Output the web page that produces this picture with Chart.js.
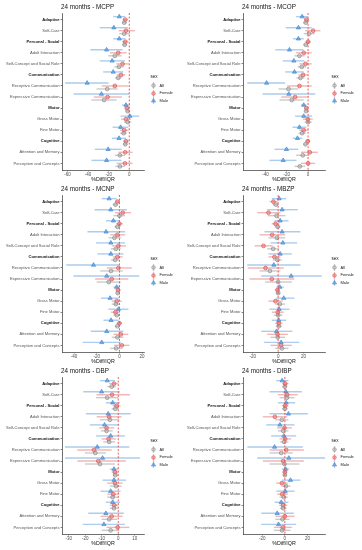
<!DOCTYPE html>
<html>
<head>
<meta charset="utf-8">
<script src="https://cdn.jsdelivr.net/npm/chart.js@4.4.0/dist/chart.umd.min.js"></script>
<style>
  body { margin: 0; background: #fff; width: 362px; height: 550px; position: relative; overflow: hidden;
         font-family: "Liberation Sans", Arial, sans-serif; }
  .panel { position: absolute; width: 181px; height: 186px; }
  .panel canvas { position: absolute; left: 0; top: 0; }
  .ttl { position: absolute; left: 61px; top: 3px; font-size: 6.3px; line-height: 8px; color: #111; white-space: nowrap; }
  .leg { position: absolute; left: 150px; font-size: 4px; color: #222; line-height: 7.8px; }
  .leg .head { font-size: 4.6px; margin-left: 0.5px; line-height: 8.5px; }
  .leg .row { display: flex; align-items: center; white-space: nowrap; }
  .leg svg { width: 7px; height: 7px; margin-right: 2.5px; }
</style>
</head>
<body>
<script>
// categories (top to bottom)
const categories = ["Adaptive", "Self-Care", "Personal - Social", "Adult Interaction",
  "Self-Concept and Social Role", "Communication", "Receptive Communication",
  "Expressive Communication", "Motor", "Gross Motor", "Fine Motor", "Cognitive",
  "Attention and Memory", "Perception and Concepts"];
const headers = ["Adaptive", "Personal - Social", "Communication", "Motor", "Cognitive"];
const sexes = ["All", "Female", "Male"];

// [estimate, lower, upper] per category
const mcppMale = [[-9.7,-15.6,-3.9],[-15,-28.6,-1.3],[-9.7,-15.6,-3.9],[-22,-37.7,-6.5],[-16.6,-28.6,-4.2],[-15.6,-25.3,-5.8],[-40.9,-62.3,-20.1],[-27,-54,0],[-3.2,-7.1,0.6],[0.6,-8.4,9.7],[-8.4,-16.2,-1],[-10,-16.9,-3.2],[-20.5,-33.4,-7.5],[-22,-36.7,-7.5]];
const mcppFemale = [[-3.9,-6.5,-1.3],[-3.2,-10.4,5.5],[-3.9,-7,-1],[-10.7,-18.8,-2.6],[-6.5,-12.7,-0.6],[-8,-12.3,-3.9],[-14,-26.6,-1],[-21,-34.4,-7.1],[-2.3,-4.5,0],[-3.2,-8,1.6],[-4.9,-9,-0.6],[-3.2,-6,-0.5],[-3.9,-10.7,3.2],[-4.2,-12.3,3.2]];
const mcppAll = [[-4.9,-7,-2.3],[-4.9,-9.7,0.6],[-4.5,-7,-2],[-14,-20.5,-7.5],[-10,-14.6,-5.2],[-10.7,-14,-7.5],[-21.4,-31.8,-11.4],[-24.4,-36.7,-12.3],[-1.6,-3.5,0.5],[-1.6,-5.2,2],[-5.5,-8.8,-2.3],[-3.9,-6,-1.6],[-9.1,-14,-4.2],[-9.1,-13.6,-4.2]];

const mcopMale = [[-5.6,-11.3,-0.3],[-9.1,-20.9,3.4],[-9.1,-14.1,-4.1],[-17.5,-30.9,-4.1],[-13.4,-23.8,-3.4],[-12.8,-21.6,-4.1],[-39,-57.2,-21.6],[-18.1,-42.8,6.6],[-4.1,-6.6,-1.6],[-4.1,-12.2,3.8],[-8.1,-14.7,-1.6],[-10,-14.4,-5.3],[-20.3,-31.6,-9.1],[-23.4,-36.3,-10.9]];
const mcopFemale = [[-1.6,-3.8,0.6],[4.7,-2.8,11.6],[0,-2.5,2.5],[-4.1,-11.3,3.4],[-2.5,-8.1,3.4],[-4.7,-9.1,-0.3],[-8.1,-19.7,3.4],[-12.2,-25.3,0.3],[-1.6,-3.4,0],[-0.3,-5,4.4],[-4.1,-8.4,0.3],[-0.3,-2.5,1.9],[1.6,-6.6,9.1],[0,-6.6,6.6]];
const mcopAll = [[-2.2,-4.7,-0.3],[0.9,-4.1,6.3],[-2.2,-4.4,-0.3],[-8.1,-12.8,-3.4],[-5.9,-9.7,-1.9],[-7.2,-10.9,-3.4],[-18.4,-27.8,-9.1],[-15.3,-26.9,-4.1],[-1.9,-3.4,-0.3],[0,-3.4,3.4],[-5.6,-9.1,-2.2],[-2.5,-4.4,-0.6],[-5,-11.3,0.9],[-7.8,-12.8,-2.8]];

const mcnpMale = [[-9.1,-15.6,-2.4],[-7.6,-22,6.5],[-5.3,-11.8,0.6],[-11.8,-28.2,5],[-7.6,-20.6,5],[-7.6,-19.4,3.5],[-22.9,-47,0],[-11.2,-40.6,17.6],[-2.4,-5.3,0.6],[-8.2,-16.2,-0.3],[-0.9,-9.7,7.9],[-7.4,-14.1,-0.6],[-11.2,-25.3,3.5],[-15.6,-32.4,1.2]];
const mcnpFemale = [[-1.8,-3.8,0.6],[2.9,-3.8,10.3],[0,-3,3],[-1.8,-8.2,5],[-0.9,-6.8,5.9],[-1.8,-5.9,2.9],[-0.9,-11.2,10.9],[-6.8,-21.5,7.9],[-1.2,-3.2,0.9],[-2.4,-6.8,2.1],[-3.5,-7.6,0.6],[0,-2.6,2.4],[1.2,-5.3,7.9],[2.1,-4.7,8.8]];
const mcnpAll = [[-3.5,-5.9,-1.2],[0,-5.3,5],[-1.8,-4.4,0.9],[-4.4,-9.7,1.2],[-3.2,-7.6,1.2],[-3.8,-7.4,-0.3],[-7.4,-17,2.9],[-9.4,-20,1.2],[-1.5,-3.2,0.3],[-3.2,-6.8,0.6],[-2.4,-5.3,0.6],[-1.8,-4.1,0.6],[-1.8,-6.8,3.5],[-2.9,-8.2,2.6]];

const mbzpMale = [[0.8,-5,6.3],[3.1,-8.6,15.4],[1.6,-2.9,8.1],[3.1,-10.7,17.5],[3.7,-6,14.9],[1.6,-7.6,10.7],[-3.4,-24.3,17.5],[10.2,-13.3,34.2],[1.3,-1.6,4.4],[4.4,-1.6,12.8],[0.8,-6.8,8.9],[0.5,-5,6.3],[-1.3,-13.3,11.2],[2.3,-11.2,16.7]];
const mbzpFemale = [[-3.7,-6.8,-0.3],[-7.6,-16.4,1.8],[-2.1,-5,1],[-4.7,-14.6,5.5],[-11.5,-18.5,-4.4],[-2.9,-7.6,1.8],[-9.9,-23.8,4.4],[-5,-22.5,12.8],[-0.5,-2.6,1.6],[-2.1,-7.6,3.7],[-0.3,-5,4.4],[0.5,-2.3,3.4],[-0.5,-8.6,7.6],[2.3,-6,10.7]];
const mbzpAll = [[-1.8,-4.2,0.5],[-1.3,-8.1,5.7],[-0.3,-2.6,1.8],[-1,-7.6,5.5],[-3.9,-8.6,1],[-0.5,-4.2,2.9],[-6.5,-14.6,1.8],[0,-10.2,10.7],[0,-1.8,1.8],[1.3,-2.3,5.5],[0,-3.4,3.4],[0.5,-1.8,2.9],[-0.3,-6,5.5],[2.9,-2.3,8.1]];

const dbpMale = [[-6.7,-11.1,-2],[-10.1,-21.2,1],[-3.4,-7.5,1],[-6.1,-19.6,7.5],[-8.3,-17.2,0.6],[-4.6,-13.5,4],[-12.7,-32.3,6.7],[-9.5,-32.3,13.1],[-2.6,-5.1,0],[-2.6,-9.5,4.6],[-4.6,-10.7,1.4],[-3.4,-7.5,1],[-7.5,-18.2,3.4],[-8.7,-21.6,4]];
const dbpFemale = [[-2.6,-5.5,0],[-3.8,-13.1,7.1],[-1,-3.4,1.4],[-5.5,-13.1,2],[-7.1,-11.5,-2.4],[-5.9,-10.1,-1.4],[-14.7,-24.8,-4],[-12.1,-24.8,4.6],[-2,-4,0],[-2,-6.7,2.6],[-3,-6.7,0.6],[-2.4,-5.1,0],[-4,-10.7,2.6],[-0.4,-7.1,6.7]];
const dbpAll = [[-4,-6.7,-1.4],[-6.7,-13.5,0],[-1.8,-4,0.4],[-5.1,-11.1,0.6],[-7.1,-10.5,-3.4],[-5.5,-9.1,-2],[-13.9,-20.2,-7.5],[-11.1,-20.2,-2],[-1.8,-3.4,-0.2],[-1.4,-5.1,2],[-3.4,-6.7,0],[-2.6,-5.1,0],[-5.5,-10.1,-0.6],[-4.6,-10.1,0.6]];

const dibpMale = [[-2.4,-7.6,3.2],[0.9,-13.5,15],[1.2,-6.2,9.1],[3.2,-13.5,20.3],[-4.4,-16.5,8.5],[-0.9,-12.1,10],[-9.1,-33.2,15.9],[3.5,-24.4,35.6],[0.6,-2.6,3.8],[5,-2.6,13.8],[0.3,-7.6,8.5],[-3.2,-9.1,3.2],[-6.8,-20.9,7.9],[-5.6,-20.9,10]];
const dibpFemale = [[0.3,-2.6,3.2],[2.1,-6.2,11.5],[0.3,-2.6,3.2],[-8.8,-19.4,2.1],[-0.3,-6.8,6.2],[0.3,-4.7,5.6],[1.2,-13.5,16.8],[-1.5,-19.4,16.8],[0,-2.1,2.1],[-2.6,-7.6,2.6],[-2.4,-6.8,2.6],[-1.5,-5,2.1],[0,-8.5,8.5],[-1.8,-9.7,6.2]];
const dibpAll = [[0,-2.1,2.1],[1.8,-4.7,8.5],[0,-2.4,2.6],[-2.6,-8.5,3.2],[-1.5,-6.2,3.2],[-0.6,-4.4,3.2],[-3.2,-13.5,7.1],[-0.3,-13.5,12.9],[0,-1.8,1.8],[0.9,-3.2,5],[-0.9,-4.7,2.6],[-1.5,-4.4,1.5],[-2.1,-8.5,4.1],[-2.4,-9.7,5]];

// x tick labels per panel
const mcppTicks = [-60, -40, -20, 0];
const mcopTicks = [-40, -20, 0];
const mcnpTicks = [-40, -20, 0, 20];
const mbzpTicks = [-20, 0, 20];
const dbpTicks = [-30, -20, -10, 0, 10];
const dibpTicks = [-20, 0, 20];

const panels = [
  { title: "24 months - MCPP", male: mcppMale, female: mcppFemale, all: mcppAll, ticks: mcppTicks, min: -65.3, max: 14.3 },
  { title: "24 months - MCOP", male: mcopMale, female: mcopFemale, all: mcopAll, ticks: mcopTicks, min: -61.2, max: 15.9 },
  { title: "24 months - MCNP", male: mcnpMale, female: mcnpFemale, all: mcnpAll, ticks: mcnpTicks, min: -50.7, max: 21.7 },
  { title: "24 months - MBZP", male: mbzpMale, female: mbzpFemale, all: mbzpAll, ticks: mbzpTicks, min: -27.6, max: 36.8 },
  { title: "24 months - DBP", male: dbpMale, female: dbpFemale, all: dbpAll, ticks: dbpTicks, min: -34.1, max: 15.6 },
  { title: "24 months - DIBP", male: dibpMale, female: dibpFemale, all: dibpAll, ticks: dibpTicks, min: -37, max: 35.5 },
];

const style = {
  All:    { off: 0.27,  point: "circle",   r: 1.9, fill: "rgba(150,150,150,0.35)", line: "#888", ci: "rgba(160,160,160,0.55)" },
  Female: { off: 0,     point: "circle",   r: 1.9, fill: "rgba(226,90,90,0.45)",   line: "#e05555", ci: "rgba(232,110,110,0.5)" },
  Male:   { off: -0.27, point: "triangle", r: 2.4, fill: "rgba(70,140,215,0.6)",   line: "#3f86d3", ci: "rgba(90,155,220,0.5)" },
};

const isHeader = c => !!(c && c.tick) && headers.includes(categories[c.tick.value]);

// horizontal confidence lines through each point
const ciLines = {
  id: "ciLines",
  beforeDatasetsDraw(chart) {
    const ctx = chart.ctx, xs = chart.scales.x;
    chart.data.datasets.forEach((ds, i) => {
      if (!ds.ci) return;
      const meta = chart.getDatasetMeta(i);
      ctx.save();
      ctx.strokeStyle = ds.ciColor;
      ctx.lineWidth = 1.4;
      ds.ci.forEach((c, j) => {
        const y = meta.data[j].y;
        ctx.beginPath();
        ctx.moveTo(xs.getPixelForValue(c[0]), y);
        ctx.lineTo(xs.getPixelForValue(c[1]), y);
        ctx.stroke();
      });
      ctx.restore();
    });
  }
};

const axisCol = "#333";

panels.forEach((p, k) => {
  const col = k % 2, row = Math.floor(k / 2);
  const box = document.createElement("div");
  box.className = "panel";
  box.style.left = (col * 181) + "px";
  box.style.top = (row * 182) + "px";
  box.innerHTML = '<canvas width="181" height="186"></canvas><div class="ttl">' + p.title + '</div>';
  document.body.appendChild(box);

  const rows = { All: p.all, Female: p.female, Male: p.male };
  const datasets = [{
    data: [{ x: 0, y: -0.6 }, { x: 0, y: categories.length - 0.4 }],
    showLine: true, borderColor: "#e8504c", borderWidth: 0.9, borderDash: [2, 1.6],
    pointRadius: 0, order: 0
  }];
  sexes.forEach(s => {
    const st = style[s];
    datasets.push({
      label: s,
      data: rows[s].map((r, i) => ({ x: r[0], y: i + st.off })),
      ci: rows[s].map(r => [r[1], r[2]]),
      ciColor: st.ci,
      pointStyle: st.point, pointRadius: st.r,
      backgroundColor: st.fill, borderColor: st.line, borderWidth: 0.7
    });
  });

  new Chart(box.querySelector("canvas"), {
    type: "scatter",
    data: { datasets },
    plugins: [ciLines],
    options: {
      responsive: false, animation: false,
      layout: { padding: { top: 13, right: 37, bottom: 3, left: 0 } },
      plugins: { legend: { display: false }, tooltip: { enabled: false } },
      scales: {
        x: {
          type: "linear", min: p.min, max: p.max,
          afterBuildTicks: s => { s.ticks = p.ticks.map(v => ({ value: v })); },
          afterFit: s => { s.height = 13; },
          ticks: { font: { size: 4.5, family: "Liberation Sans" }, color: "#4d4d4d", padding: 0.5, maxRotation: 0, autoSkip: false },
          grid: { drawOnChartArea: false, tickLength: 1.5, color: axisCol, lineWidth: 0.6 },
          border: { color: axisCol, width: 0.7 },
          title: { display: true, text: "%Diff/IQR", font: { size: 5.3, family: "Liberation Sans" }, color: "#111", padding: 0 }
        },
        y: {
          type: "linear", reverse: true, min: -0.6, max: categories.length - 0.4,
          afterBuildTicks: s => { s.ticks = categories.map((c, i) => ({ value: i })); },
          afterFit: s => { s.width = 62; },
          ticks: {
            callback: v => categories[v],
            font: c => ({ size: 4.1, family: "Liberation Sans", weight: isHeader(c) ? "bold" : "normal" }),
            color: c => isHeader(c) ? "#111" : "#555",
            padding: 1, autoSkip: false
          },
          grid: { drawOnChartArea: false, tickLength: 1.5, color: axisCol, lineWidth: 0.6 },
          border: { color: axisCol, width: 0.7 }
        }
      }
    }
  });

  // ggplot-style legend
  const leg = document.createElement("div");
  leg.className = "leg";
  leg.style.top = "73px";
  let html = '<div class="head">sex</div>';
  sexes.forEach(s => {
    const st = style[s];
    const mark = st.point === "triangle"
      ? '<polygon points="3.5,1.6 5.6,5 1.4,5" fill="' + st.fill + '" stroke="' + st.line + '" stroke-width="0.6"/>'
      : '<circle cx="3.5" cy="3.5" r="1.8" fill="' + st.fill + '" stroke="' + st.line + '" stroke-width="0.6"/>';
    html += '<div class="row"><svg viewBox="0 0 7 7"><line x1="3.5" y1="0" x2="3.5" y2="7" stroke="' + st.ci + '" stroke-width="1.2"/>' + mark + '</svg>' + s + '</div>';
  });
  leg.innerHTML = html;
  box.appendChild(leg);
});
</script>
</body>
</html>
